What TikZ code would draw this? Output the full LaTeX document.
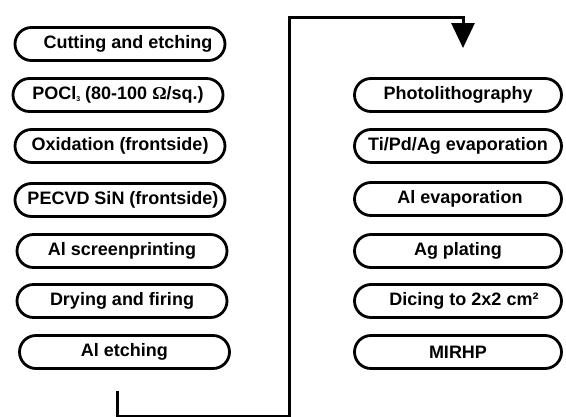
\documentclass[tikz,border=0pt]{standalone}
\usepackage{fontspec}
\setmainfont{Liberation Sans}
\newfontfamily\omegafont{Liberation Serif}
\usetikzlibrary{shapes.misc,arrows.meta}
\tikzset{
  stepbox/.style={rounded rectangle, draw, line width=2.8pt, minimum height=33pt,
    inner sep=0pt, font=\bfseries\fontsize{18}{20}\selectfont},
  leftbox/.style={stepbox, minimum width=210pt},
  rightbox/.style={stepbox, minimum width=207pt},
  flow/.style={line width=3pt, miter limit=10}
}
\begin{document}
\begin{tikzpicture}[x=1pt,y=-1pt]
\useasboundingbox (0,0) rectangle (566,416);
% left column
\node[leftbox] (l1) at (120,44) {\hspace{16pt}Cutting and etching};
\node[leftbox] (l2) at (118,95) {POCl\raisebox{-2pt}{\fontsize{7}{7}\selectfont 3} (80-100 {\omegafont Ω}/sq.)};
\node[leftbox] (l3) at (120,146) {Oxidation (frontside)};
\node[leftbox] (l4) at (120,200) {\hspace{6pt}PECVD SiN (frontside)};
\node[leftbox] (l5) at (122,251) {Al screenprinting};
\node[leftbox] (l6) at (122,301) {Drying and firing};
\node[leftbox] (l7) at (124.5,352) {Al etching};
% right column
\node[rightbox] (r1) at (458,95) {Photolithography};
\node[rightbox] (r2) at (458,146) {Ti/Pd/Ag evaporation};
\node[rightbox] (r3) at (458,199) {\hspace{4pt}Al evaporation};
\node[rightbox] (r4) at (458,251) {Ag plating};
\node[rightbox] (r5) at (458,301) {\hspace{12pt}Dicing to 2x2 cm²};
\node[rightbox] (r6) at (458,352) {MIRHP};
% connector
\coordinate (cstart) at (117,391);
\coordinate (cbot) at (289,416);
\coordinate (ctop) at (289,17);
\coordinate (cend) at (463,48);
\draw[flow, -{Triangle[width=23pt,length=25pt]}]
  (cstart) |- (cbot) -- (ctop) -| (cend);
\end{tikzpicture}
\end{document}
